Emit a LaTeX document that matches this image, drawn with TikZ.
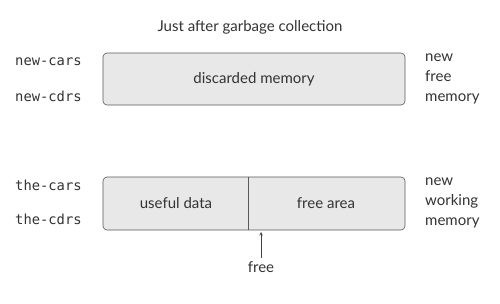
\documentclass[tikz,border=0pt]{standalone}
\usepackage{fontspec}
\setmainfont{Lato}
\setmonofont{DejaVu Sans Mono}
\begin{document}
\begin{tikzpicture}[x=1pt,y=-1pt,
  mem/.style={draw=black!65, fill=black!9, rounded corners=4pt, line width=0.6pt},
  lbl/.style={font=\fontsize{15}{17}\selectfont, text=black!80, inner sep=0pt},
  code/.style={font=\ttfamily\fontsize{13.8}{16}\selectfont, text=black!80, inner sep=0pt, anchor=west},
  side/.style={font=\fontsize{15}{20}\selectfont, text=black!80, inner sep=0pt, anchor=west, align=left}]
\useasboundingbox (0,0) rectangle (500,303);
\node[lbl] (title) at (250,27) {Just after garbage collection};
% top box
\draw[mem] (103,53) rectangle (405,105);
\node[lbl] (disc) at (254,79) {discarded memory};
\node[code] (nc) at (15,62) {new-cars};
\node[code] (nd) at (15,96) {new-cdrs};
\node[side] (nfm) at (425,79) {new\\free\\memory};
% bottom box
\draw[mem] (103,177) rectangle (405,230);
\draw[draw=black!65, line width=0.6pt] (248,177) -- (248,230);
\node[lbl] (useful) at (176,203) {useful data};
\node[lbl] (freearea) at (326,203) {free area};
\node[code] (tc) at (15,185) {the-cars};
\node[code] (td) at (15,219) {the-cdrs};
\node[side] (nwm) at (425,203) {new\\working\\memory};
\node[lbl, anchor=north] (free) at (261,261) {free};
\coordinate (ftip) at (261,232);
\draw[-stealth, black!75, line width=0.6pt] (free.north) ++(0,-3) -- (ftip);
\end{tikzpicture}
\end{document}
